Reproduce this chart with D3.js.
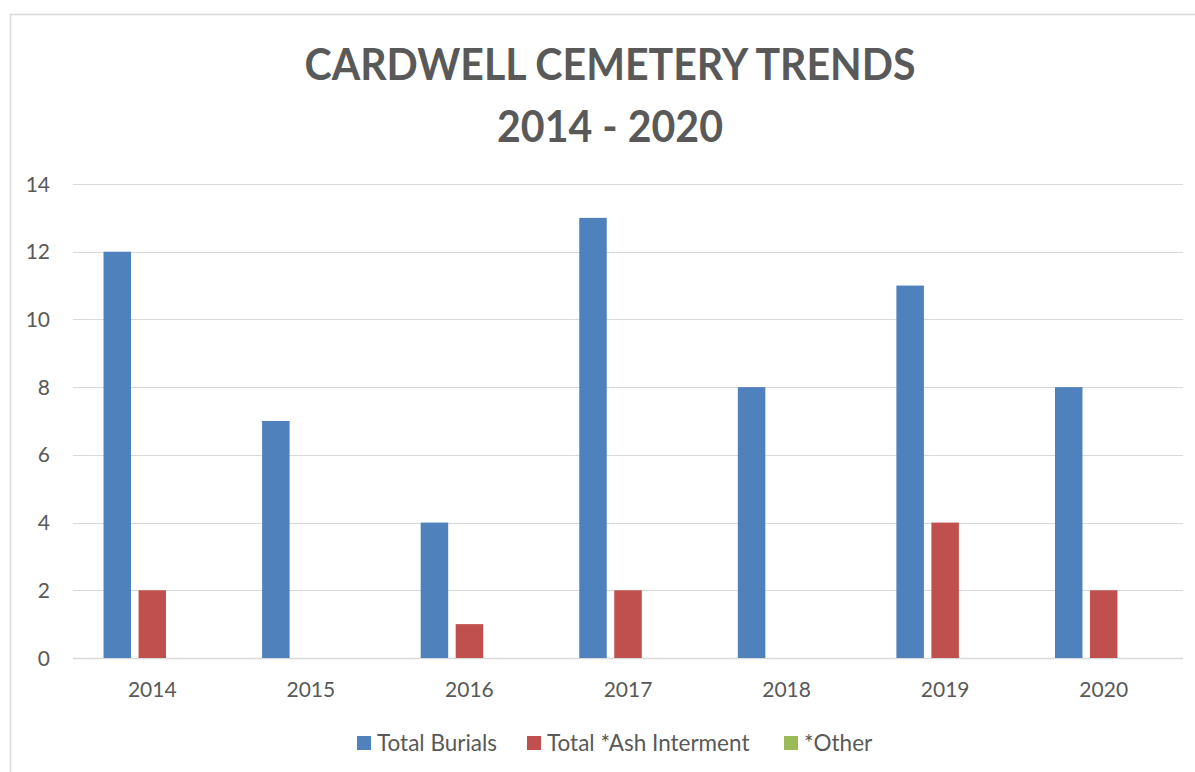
<!DOCTYPE html>
<html>
<head>
<meta charset="utf-8">
<script src="https://cdn.jsdelivr.net/npm/d3@7"></script>
<style>
  body { margin: 0; background: #fff; }
  svg { display: block; font-family: Lato, "Open Sans", sans-serif; }
</style>
</head>
<body>
<svg id="chart" width="1195" height="772"></svg>
<script>
// data
const years = ["2014", "2015", "2016", "2017", "2018", "2019", "2020"];
const totalBurials = [12, 7, 4, 13, 8, 11, 8];
const ashInterment = [2, 0, 1, 2, 0, 4, 2];
const other = [0, 0, 0, 0, 0, 0, 0];
const seriesNames = ["Total Burials", "Total *Ash Interment", "*Other"];
const seriesColors = ["#4F81BD", "#C0504D", "#9BBB59"];
const yTicks = [0, 2, 4, 6, 8, 10, 12, 14];

const svg = d3.select("#chart");
const textColor = "#595959";

// outer chart border
svg.append("rect")
    .attr("x", 10.5).attr("y", 14.5)
    .attr("width", 1300).attr("height", 900)
    .attr("fill", "none")
    .attr("stroke", "#d9d9d9")
    .attr("stroke-width", 1.5);

// title
const title = svg.append("text")
    .attr("text-anchor", "middle")
    .attr("fill", textColor)
    .attr("font-weight", "bold")
    .attr("font-size", 44);
title.append("tspan").attr("x", 610).attr("y", 80)
    .attr("textLength", 611).attr("lengthAdjust", "spacingAndGlyphs")
    .text("CARDWELL CEMETERY TRENDS");
title.append("tspan").attr("x", 610).attr("y", 142)
    .attr("textLength", 226).attr("lengthAdjust", "spacingAndGlyphs")
    .text("2014 - 2020");

const plotL = 73, plotR = 1183, plotT = 184, plotB = 658;

const x = d3.scaleBand().domain(years).range([plotL, plotR]);
const y = d3.scaleLinear().domain([0, 14]).range([plotB, plotT]);

// gridlines
svg.append("g")
    .selectAll("line")
    .data(yTicks)
    .join("line")
    .attr("x1", plotL).attr("x2", plotR)
    .attr("y1", d => Math.round(y(d)) + 0.5)
    .attr("y2", d => Math.round(y(d)) + 0.5)
    .attr("stroke", "#d9d9d9")
    .attr("stroke-width", d => d === 0 ? 1.5 : 1);

// y tick labels
svg.append("g")
    .selectAll("text")
    .data(yTicks)
    .join("text")
    .attr("x", 50)
    .attr("y", d => y(d))
    .attr("dy", "0.36em")
    .attr("text-anchor", "end")
    .attr("fill", textColor)
    .attr("font-size", 21)
    .text(d => d);

// x labels
svg.append("g")
    .selectAll("text")
    .data(years)
    .join("text")
    .attr("x", d => x(d) + x.bandwidth() / 2)
    .attr("y", 697)
    .attr("text-anchor", "middle")
    .attr("fill", textColor)
    .attr("font-size", 21)
    .text(d => d);

// bars
const allSeries = [totalBurials, ashInterment, other];
const step = 35, barW = 27.5;
allSeries.forEach((vals, s) => {
    svg.append("g")
        .selectAll("rect")
        .data(vals)
        .join("rect")
        .attr("x", (d, i) => x(years[i]) + x.bandwidth() / 2 + (s - 1) * step - barW / 2)
        .attr("y", d => y(d))
        .attr("width", barW)
        .attr("height", d => plotB - y(d))
        .attr("fill", seriesColors[s]);
});

// legend
const legendX = [357, 527, 784];
const leg = svg.append("g")
    .selectAll("g")
    .data(seriesNames)
    .join("g")
    .attr("transform", (d, i) => `translate(${legendX[i]},743)`);
leg.append("rect")
    .attr("x", 0).attr("y", -7)
    .attr("width", 14).attr("height", 14)
    .attr("fill", (d, i) => seriesColors[i]);
leg.append("text")
    .attr("x", 20)
    .attr("dy", "0.36em")
    .attr("fill", textColor)
    .attr("font-size", 22.5)
    .text(d => d);
</script>
</body>
</html>
